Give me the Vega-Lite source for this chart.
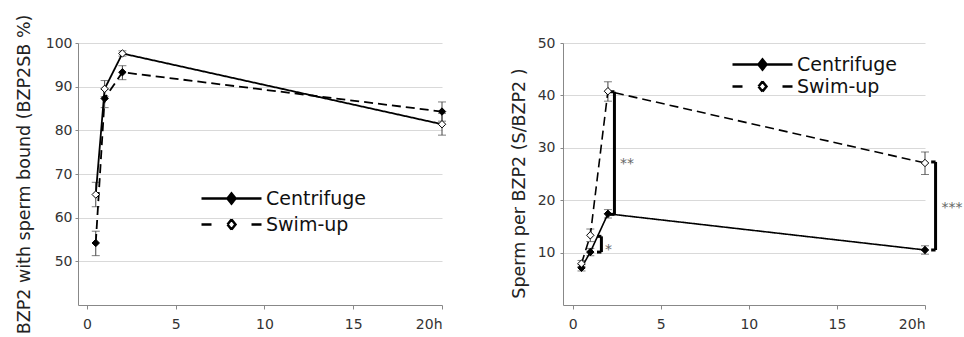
{
  "$schema": "https://vega.github.io/schema/vega-lite/v6.json",
  "padding": {"left": 15, "top": 14, "right": 0, "bottom": 0},
  "background": "white",
  "bounds": "flush",
  "spacing": 121,
  "config": {
    "view": {"stroke": null},
    "font": "DejaVu Sans",
    "axis": {
      "labelFont": "DejaVu Sans", "labelFontSize": 14, "labelColor": "#333",
      "titleFont": "DejaVu Sans", "titleFontSize": 17.5, "titleFontWeight": "normal", "titleColor": "#222",
      "domainColor": "#888", "tickColor": "#888", "tickSize": 3,
      "gridColor": "#d9d9d9", "gridWidth": 1
    },
    "axisX": {"grid": false, "labelPadding": 8, "tickSize": 4},
    "axisY": {"labelPadding": 3}
  },
  "datasets": {
    "left": [
      {"t": 0.5, "series": "Centrifuge", "v": 54.2, "lo": 51.3, "hi": 56.9},
      {"t": 1, "series": "Centrifuge", "v": 87.3, "lo": 85.2, "hi": 89.4},
      {"t": 2, "series": "Centrifuge", "v": 93.3, "lo": 91.6, "hi": 94.8},
      {"t": 20, "series": "Centrifuge", "v": 84.3, "lo": 82.1, "hi": 86.5},
      {"t": 0.5, "series": "Swim-up", "v": 65.3, "lo": 62.5, "hi": 68.1},
      {"t": 1, "series": "Swim-up", "v": 89.5, "lo": 87.7, "hi": 91.4},
      {"t": 2, "series": "Swim-up", "v": 97.6, "lo": 97.0, "hi": 98.2},
      {"t": 20, "series": "Swim-up", "v": 81.4, "lo": 78.9, "hi": 83.9}
    ],
    "right": [
      {"t": 0.5, "series": "Centrifuge", "v": 7.1, "lo": 6.5, "hi": 7.7},
      {"t": 1, "series": "Centrifuge", "v": 10.1, "lo": 9.4, "hi": 10.8},
      {"t": 2, "series": "Centrifuge", "v": 17.4, "lo": 16.6, "hi": 18.2},
      {"t": 20, "series": "Centrifuge", "v": 10.5, "lo": 9.7, "hi": 11.3},
      {"t": 0.5, "series": "Swim-up", "v": 7.9, "lo": 7.3, "hi": 8.5},
      {"t": 1, "series": "Swim-up", "v": 13.3, "lo": 12.1, "hi": 14.5},
      {"t": 2, "series": "Swim-up", "v": 40.8, "lo": 38.9, "hi": 42.6},
      {"t": 20, "series": "Swim-up", "v": 27.1, "lo": 24.9, "hi": 29.2}
    ],
    "brackets": [
      {"t": 2.37, "t2": 2.37, "v": 17.3, "v2": 40.7},
      {"t": 2.12, "t2": 2.37, "v": 40.7, "v2": 40.7},
      {"t": 2.12, "t2": 2.37, "v": 17.3, "v2": 17.3},
      {"t": 1.63, "t2": 1.63, "v": 10.1, "v2": 13.1},
      {"t": 1.38, "t2": 1.63, "v": 13.1, "v2": 13.1},
      {"t": 1.38, "t2": 1.63, "v": 10.1, "v2": 10.1},
      {"t": 20.6, "t2": 20.6, "v": 10.5, "v2": 27.3},
      {"t": 20.35, "t2": 20.6, "v": 27.3, "v2": 27.3},
      {"t": 20.35, "t2": 20.6, "v": 10.5, "v2": 10.5}
    ],
    "stars": [
      {"t": 2.68, "v": 27.6, "label": "**"},
      {"t": 1.83, "v": 11.3, "label": "*"},
      {"t": 20.93, "v": 19.3, "label": "***"}
    ]
  },
  "resolve": {
    "scale": {"x": "independent", "y": "independent", "fill": "independent", "strokeDash": "independent"},
    "legend": {"fill": "independent"}
  },
  "hconcat": [
    {
      "width": 364,
      "height": 262,
      "data": {"name": "left"},
      "encoding": {
        "x": {"field": "t", "type": "quantitative", "title": null, "scale": {"domain": [-0.5, 20], "nice": false, "zero": false}, "axis": {"values": [0, 5, 10, 15, 20], "labelExpr": "datum.value === 20 ? '20h' : datum.label"}},
        "y": {"field": "v", "type": "quantitative", "title": "BZP2 with sperm bound (BZP2SB %)", "scale": {"domain": [40, 100], "nice": false, "zero": false}, "axis": {"values": [50, 60, 70, 80, 90, 100], "titlePadding": 12}}
      },
      "layer": [
        {
          "mark": {"type": "rule", "color": "#444", "strokeWidth": 1},
          "encoding": {
            "y": {"field": "lo", "type": "quantitative", "title": "BZP2 with sperm bound (BZP2SB %)"},
            "y2": {"field": "hi"}
          }
        },
        {
          "mark": {"type": "tick", "orient": "horizontal", "size": 8, "thickness": 1, "color": "#444"},
          "encoding": {
            "y": {"field": "lo", "type": "quantitative", "title": "BZP2 with sperm bound (BZP2SB %)"}
          }
        },
        {
          "mark": {"type": "tick", "orient": "horizontal", "size": 8, "thickness": 1, "color": "#444"},
          "encoding": {
            "y": {"field": "hi", "type": "quantitative", "title": "BZP2 with sperm bound (BZP2SB %)"}
          }
        },
        {
          "mark": {"type": "line", "color": "black", "strokeWidth": 1.8},
          "encoding": {
            "strokeDash": {"field": "series", "type": "nominal", "scale": {"domain": ["Swim-up", "Centrifuge"], "range": [[1, 0], [9, 5]]}, "legend": null}
          }
        },
        {
          "mark": {"type": "point", "shape": "diamond", "filled": true, "stroke": "black", "strokeWidth": 1, "size": 55, "opacity": 1},
          "encoding": {
            "fill": {
              "field": "series", "type": "nominal",
              "scale": {"domain": ["Centrifuge", "Swim-up"], "range": ["black", "white"]},
              "legend": {
                "title": null, "orient": "none", "legendX": 122, "legendY": 144, "padding": 0,
                "symbolType": "M-1,0H1.6M5,0H2.4M2,-0.5L2.4,0L2,0.5L1.6,0ZM2,-0.5L2.4,0M2.4,0L2,0.5M2,0.5L1.6,0M1.6,0L2,-0.5",
                "symbolSize": 400, "symbolStrokeWidth": 2.5, "symbolStrokeColor": "black",
                "labelOffset": 43, "labelFont": "DejaVu Sans", "labelFontSize": 19, "labelColor": "#111", "labelLimit": 300,
                "rowPadding": 4,
                "encoding": {
                  "symbols": {
                    "strokeDash": {"condition": {"test": "datum.value === 'Swim-up'", "value": [10, 40]}, "value": [1, 0]}
                  }
                }
              }
            }
          }
        }
      ]
    },
    {
      "width": 362,
      "height": 262,
      "data": {"name": "right"},
      "encoding": {
        "x": {"field": "t", "type": "quantitative", "title": null, "scale": {"domain": [-0.55, 20], "nice": false, "zero": false}, "axis": {"values": [0, 5, 10, 15, 20], "labelExpr": "datum.value === 20 ? '20h' : datum.label"}},
        "y": {"field": "v", "type": "quantitative", "title": "Sperm per BZP2 (S/BZP2 )", "scale": {"domain": [0, 50], "nice": false, "zero": false}, "axis": {"values": [10, 20, 30, 40, 50], "titlePadding": 9, "titleY": 140, "labelPadding": 5}}
      },
      "layer": [
        {
          "mark": {"type": "rule", "color": "#444", "strokeWidth": 1},
          "encoding": {
            "y": {"field": "lo", "type": "quantitative", "title": "Sperm per BZP2 (S/BZP2 )"},
            "y2": {"field": "hi"}
          }
        },
        {
          "mark": {"type": "tick", "orient": "horizontal", "size": 8, "thickness": 1, "color": "#444"},
          "encoding": {
            "y": {"field": "lo", "type": "quantitative", "title": "Sperm per BZP2 (S/BZP2 )"}
          }
        },
        {
          "mark": {"type": "tick", "orient": "horizontal", "size": 8, "thickness": 1, "color": "#444"},
          "encoding": {
            "y": {"field": "hi", "type": "quantitative", "title": "Sperm per BZP2 (S/BZP2 )"}
          }
        },
        {
          "mark": {"type": "line", "color": "black", "strokeWidth": 1.6},
          "encoding": {
            "strokeDash": {"field": "series", "type": "nominal", "scale": {"domain": ["Swim-up", "Centrifuge"], "range": [[9, 5], [1, 0]]}, "legend": null}
          }
        },
        {
          "data": {"name": "brackets"},
          "mark": {"type": "rule", "color": "black", "strokeWidth": 3},
          "encoding": {
            "x2": {"field": "t2"},
            "y2": {"field": "v2"}
          }
        },
        {
          "data": {"name": "stars"},
          "mark": {"type": "text", "align": "left", "baseline": "middle", "dy": 4, "fontSize": 14, "color": "#666", "font": "DejaVu Sans"},
          "encoding": {
            "text": {"field": "label"}
          }
        },
        {
          "mark": {"type": "point", "shape": "diamond", "filled": true, "stroke": "black", "strokeWidth": 1, "size": 55, "opacity": 1},
          "encoding": {
            "fill": {
              "field": "series", "type": "nominal",
              "scale": {"domain": ["Centrifuge", "Swim-up"], "range": ["black", "white"]},
              "legend": {
                "title": null, "orient": "none", "legendX": 168, "legendY": 10, "padding": 0,
                "symbolType": "M-1,0H1.6M5,0H2.4M2,-0.5L2.4,0L2,0.5L1.6,0ZM2,-0.5L2.4,0M2.4,0L2,0.5M2,0.5L1.6,0M1.6,0L2,-0.5",
                "symbolSize": 400, "symbolStrokeWidth": 2.5, "symbolStrokeColor": "black",
                "labelOffset": 43, "labelFont": "DejaVu Sans", "labelFontSize": 19, "labelColor": "#111", "labelLimit": 300,
                "rowPadding": 0,
                "encoding": {
                  "symbols": {
                    "strokeDash": {"condition": {"test": "datum.value === 'Swim-up'", "value": [10, 40]}, "value": [1, 0]}
                  }
                }
              }
            }
          }
        }
      ]
    }
  ]
}
